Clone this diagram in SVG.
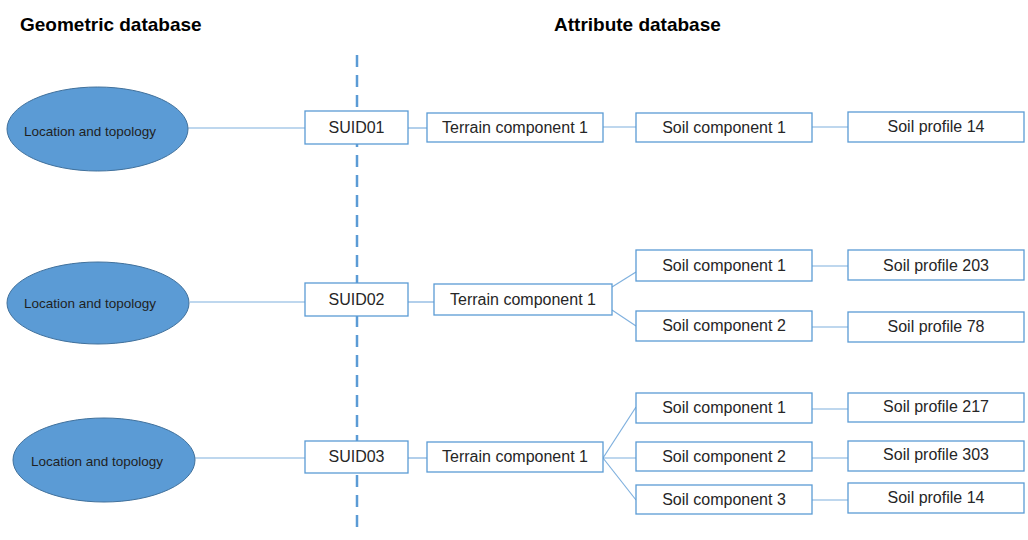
<svg xmlns="http://www.w3.org/2000/svg" width="1028" height="540" viewBox="0 0 1028 540">
  <style>
    .hdr { font-family: "Liberation Sans", Arial, sans-serif; font-weight: bold; font-size: 19px; fill: #000; }
    .box { fill: #ffffff; stroke: #5b9bd5; stroke-width: 1.3; }
    .ell { fill: #5b9bd5; stroke: #41719c; stroke-width: 1; }
    .lbl { font-family: "Liberation Sans", Arial, sans-serif; font-size: 16px; fill: #262626; text-anchor: middle; }
    .elbl { font-family: "Liberation Sans", Arial, sans-serif; font-size: 13.5px; fill: #1f1f1f; text-anchor: middle; }
    .conn line { stroke: #7fb0de; stroke-width: 1.2; }
    .divider { stroke: #5b9bd5; stroke-width: 2.5; stroke-dasharray: 12 8; }
  </style>
  <rect width="1028" height="540" fill="#ffffff"/>

  <!-- column headings -->
  <text class="hdr" x="20" y="31">Geometric database</text>
  <text class="hdr" x="554" y="31">Attribute database</text>

  <!-- divider between geometric and attribute parts -->
  <line class="divider" x1="357" y1="55" x2="357" y2="535"/>

  <!-- connectors -->
  <g id="connectors" class="conn">
    <line x1="188" y1="128" x2="305" y2="128"/>
    <line x1="408" y1="128" x2="427" y2="128"/>
    <line x1="603" y1="127" x2="636" y2="127"/>
    <line x1="812" y1="127" x2="848" y2="127"/>

    <line x1="190" y1="302" x2="305" y2="302"/>
    <line x1="408" y1="302" x2="434" y2="302"/>
    <line x1="612" y1="287" x2="636" y2="272"/>
    <line x1="612" y1="310" x2="636" y2="326"/>
    <line x1="812" y1="266" x2="848" y2="266"/>
    <line x1="812" y1="327" x2="848" y2="327"/>

    <line x1="195" y1="458" x2="305" y2="458"/>
    <line x1="408" y1="458" x2="427" y2="458"/>
    <line x1="603" y1="458" x2="636" y2="407"/>
    <line x1="603" y1="458" x2="636" y2="458"/>
    <line x1="603" y1="458" x2="636" y2="500"/>
    <line x1="812" y1="409" x2="848" y2="409"/>
    <line x1="812" y1="458" x2="848" y2="458"/>
    <line x1="812" y1="500" x2="848" y2="500"/>
  </g>

  <!-- row 1 -->
  <g id="geo1"><ellipse class="ell" cx="97.5" cy="129" rx="90.5" ry="42"/><text class="elbl" x="90" y="136">Location and topology</text></g>
  <g id="suid01"><rect class="box" x="305" y="111" width="103" height="33"/><text class="lbl" x="356.5" y="133">SUID01</text></g>
  <g id="terrain1"><rect class="box" x="427" y="113" width="176" height="29"/><text class="lbl" x="515" y="133">Terrain component 1</text></g>
  <g id="soil1_1"><rect class="box" x="636" y="113" width="176" height="29"/><text class="lbl" x="724" y="133">Soil component 1</text></g>
  <g id="profile1_14"><rect class="box" x="848" y="112" width="176" height="30"/><text class="lbl" x="936" y="132">Soil profile 14</text></g>

  <!-- row 2 -->
  <g id="geo2"><ellipse class="ell" cx="98" cy="303" rx="91" ry="41"/><text class="elbl" x="90" y="308">Location and topology</text></g>
  <g id="suid02"><rect class="box" x="305" y="283" width="103" height="33"/><text class="lbl" x="356.5" y="305">SUID02</text></g>
  <g id="terrain2"><rect class="box" x="434" y="284" width="178" height="31"/><text class="lbl" x="523" y="305">Terrain component 1</text></g>
  <g id="soil2_1"><rect class="box" x="636" y="250" width="176" height="31"/><text class="lbl" x="724" y="271">Soil component 1</text></g>
  <g id="profile2_203"><rect class="box" x="848" y="250" width="176" height="30"/><text class="lbl" x="936" y="271">Soil profile 203</text></g>
  <g id="soil2_2"><rect class="box" x="636" y="311" width="176" height="30"/><text class="lbl" x="724" y="331">Soil component 2</text></g>
  <g id="profile2_78"><rect class="box" x="848" y="312" width="176" height="30"/><text class="lbl" x="936" y="332">Soil profile 78</text></g>

  <!-- row 3 -->
  <g id="geo3"><ellipse class="ell" cx="104" cy="460" rx="91" ry="42"/><text class="elbl" x="97" y="466">Location and topology</text></g>
  <g id="suid03"><rect class="box" x="305" y="441" width="103" height="32"/><text class="lbl" x="356.5" y="462">SUID03</text></g>
  <g id="terrain3"><rect class="box" x="427" y="442" width="176" height="30"/><text class="lbl" x="515" y="462">Terrain component 1</text></g>
  <g id="soil3_1"><rect class="box" x="636" y="393" width="176" height="30"/><text class="lbl" x="724" y="413">Soil component 1</text></g>
  <g id="profile3_217"><rect class="box" x="848" y="393" width="176" height="29"/><text class="lbl" x="936" y="412">Soil profile 217</text></g>
  <g id="soil3_2"><rect class="box" x="636" y="442" width="176" height="29"/><text class="lbl" x="724" y="462">Soil component 2</text></g>
  <g id="profile3_303"><rect class="box" x="848" y="441" width="176" height="30"/><text class="lbl" x="936" y="460">Soil profile 303</text></g>
  <g id="soil3_3"><rect class="box" x="636" y="485" width="176" height="29"/><text class="lbl" x="724" y="505">Soil component 3</text></g>
  <g id="profile3_14"><rect class="box" x="848" y="483" width="176" height="30"/><text class="lbl" x="936" y="503">Soil profile 14</text></g>
</svg>
